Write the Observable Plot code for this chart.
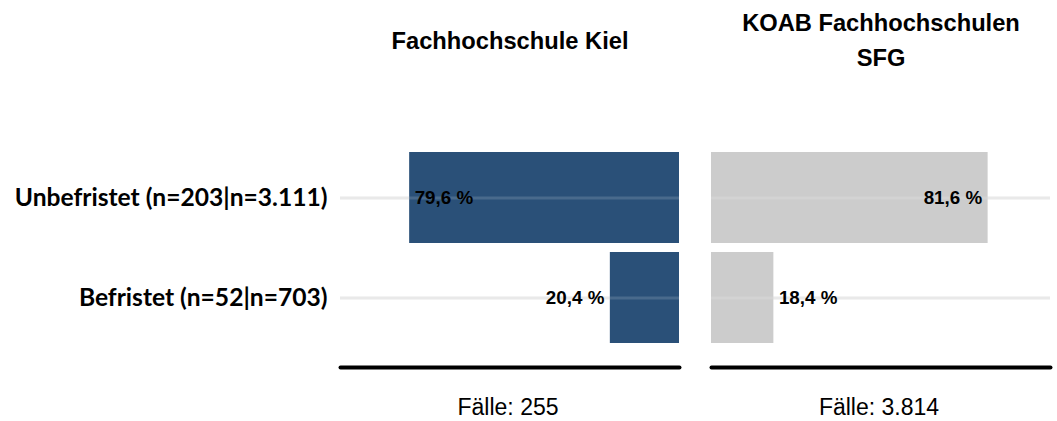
<!DOCTYPE html>
<html><head><meta charset="utf-8">
<script src="https://cdn.jsdelivr.net/npm/d3@7"></script>
<script src="https://cdn.jsdelivr.net/npm/@observablehq/plot@0.6"></script>
<style>body{margin:0;background:#fff}</style>
</head><body><div id="chart"></div>
<script>
const categories = ["Unbefristet (n=203|n=3.111)", "Befristet (n=52|n=703)"];
const panels = ["Fachhochschule Kiel", "KOAB Fachhochschulen\nSFG"];
const kielValues = [79.6, 20.4];
const koabValues = [81.6, 18.4];
const footers = ["Fälle: 255", "Fälle: 3.814"];
const colors = ["#2a5078", "#cccccc"];

const rows = [
  ...categories.map((c, i) => ({panel: panels[0], category: c, value: kielValues[i], left: true})),
  ...categories.map((c, i) => ({panel: panels[1], category: c, value: koabValues[i], left: false}))
];
const panelInfo = panels.map((p, i) => ({panel: p, footer: footers[i]}));
const fmt = v => v.toFixed(1).replace(".", ",") + " %";
const edge = d => d.left ? 100 - d.value : d.value;
const startAnchored = d => d.left ? d.value > 50 : d.value <= 50;

const chart = Plot.plot({
  width: 1057, height: 421,
  marginLeft: 340, marginRight: 7, marginTop: 147.5, marginBottom: 73.5,
  style: {fontFamily: "Liberation Sans, Arial, sans-serif", background: "#fff", color: "#000"},
  fx: {domain: panels, paddingInner: 0.0863, paddingOuter: 0, axis: null},
  x: {domain: [0, 100], axis: null},
  y: {domain: categories, paddingInner: 0.09, paddingOuter: 0.045, axis: null},
  marks: [
    Plot.ruleY(categories, {stroke: "#e5e5e5", strokeWidth: 3}),
    Plot.barX(rows.filter(d => d.left), {fx: "panel", y: "category", x1: d => 100 - d.value, x2: 100, fill: colors[0]}),
    Plot.barX(rows.filter(d => !d.left), {fx: "panel", y: "category", x1: 0, x2: "value", fill: colors[1]}),
    Plot.ruleY(categories, {stroke: "#fff", strokeOpacity: 0.15, strokeWidth: 3}),
    Plot.text(rows.filter(startAnchored), {fx: "panel", y: "category", x: edge, text: d => fmt(d.value), textAnchor: "start", dx: 5, fontSize: 18.8, fontWeight: "bold"}),
    Plot.text(rows.filter(d => !startAnchored(d)), {fx: "panel", y: "category", x: edge, text: d => fmt(d.value), textAnchor: "end", dx: -6, fontSize: 18.8, fontWeight: "bold"}),
    Plot.frame({anchor: "bottom", dy: 19.5, stroke: "#000", strokeWidth: 4, strokeLinecap: "round"}),
    Plot.text(panelInfo, {fx: "panel", x: 50, text: "panel", frameAnchor: "top", dy: 37 - 147.5, lineAnchor: "middle", fontSize: 23.7, fontWeight: "bold", lineHeight: 1.48}),
    Plot.text(panelInfo, {fx: "panel", x: 50, dx: -2, text: "footer", frameAnchor: "bottom", dy: 59.5, lineAnchor: "middle", fontSize: 23}),
    Plot.axisY({tickSize: 0, tickPadding: 13, fontSize: 24.6, fontWeight: "bold", fontFamily: "Lato", label: null})
  ]
});
document.getElementById("chart").appendChild(chart);
</script>
</body></html>
